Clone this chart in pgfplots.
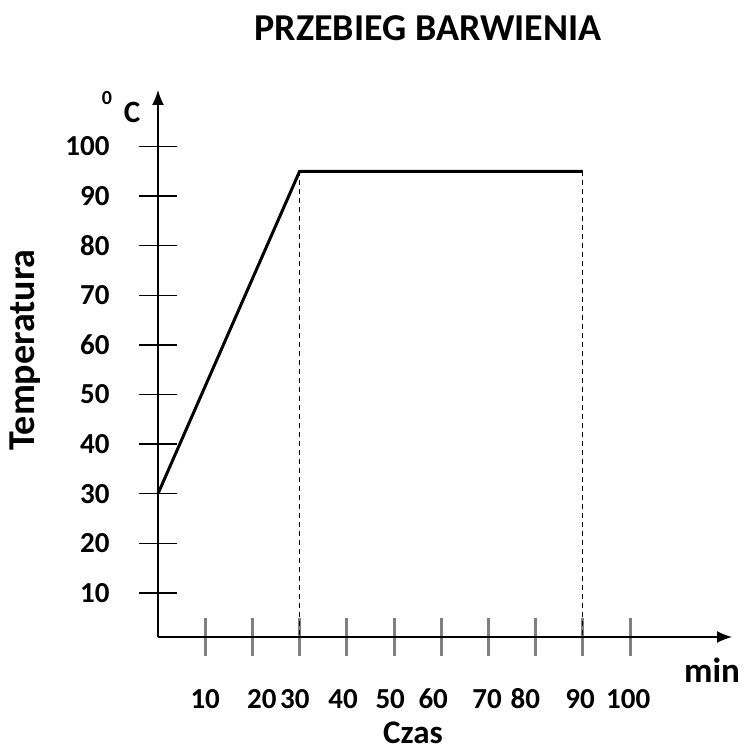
\documentclass[border=0pt]{standalone}
\usepackage{pgfplots}
\pgfplotsset{compat=1.18}
\usetikzlibrary{arrows.meta}
\usepackage{fontspec}
\setmainfont{Carlito}
\begin{document}
\begin{tikzpicture}
\begin{axis}[
  at={(0pt,0pt)}, anchor=south west,
  scale only axis, width=574pt, height=547pt,
  xmin=0, xmax=121.6, ymin=1.1, ymax=111.4,
  axis lines=left,
  axis line style={line width=1.5pt, -{Latex[length=15pt,width=12pt]}},
  clip=false,
  tick align=center,
  major tick length=38pt,
  x tick style={draw=gray, line width=3pt},
  y tick style={black, line width=1.5pt},
  xtick={10,20,...,100},
  xticklabels={},
  extra x ticks={10.0,22.0,29.0,39.2,49.2,58.3,69.7,77.8,89.4,99.6},
  extra x tick labels={10,20,30,40,50,60,70,80,90,100},
  extra x tick style={major tick length=0pt, tick style={draw=none}},
  xticklabel style={anchor=center, yshift=-62pt},
  ytick={10,20,...,100},
  yticklabel style={anchor=east, xshift=-26pt},
  tick label style={font=\fontsize{29}{29}\selectfont\bfseries},
  /pgf/number format/assume math mode=true,
]
\addplot[black, line width=1.2pt, dash pattern=on 5pt off 4pt] coordinates {(30,95) (30,1.1)};
\addplot[black, line width=1.2pt, dash pattern=on 5pt off 4pt] coordinates {(90,95) (90,1.1)};
\addplot[black, line width=3pt, line join=miter] coordinates {(0,30) (30,95) (90,95)};
\end{axis}
\node[font=\fontsize{38}{38}\selectfont\bfseries] at (270pt,609pt) {PRZEBIEG BARWIENIA};
\node[font=\fontsize{31}{31}\selectfont\bfseries] at (-26pt,525pt) {C};
\node[font=\fontsize{20}{20}\selectfont\bfseries] at (-51pt,539pt) {0};
\node[font=\fontsize{35}{35}\selectfont\bfseries] at (554pt,-33pt) {min};
\node[font=\fontsize{33}{33}\selectfont\bfseries, inner sep=0pt] at (255pt,-96pt) {Czas};
\node[font=\fontsize{38}{38}\selectfont\bfseries, rotate=90] at (-133pt,287pt) {Temperatura};
\pgfresetboundingbox
\useasboundingbox (-158pt,-115pt) rectangle (587pt,637pt);
\end{tikzpicture}
\end{document}
